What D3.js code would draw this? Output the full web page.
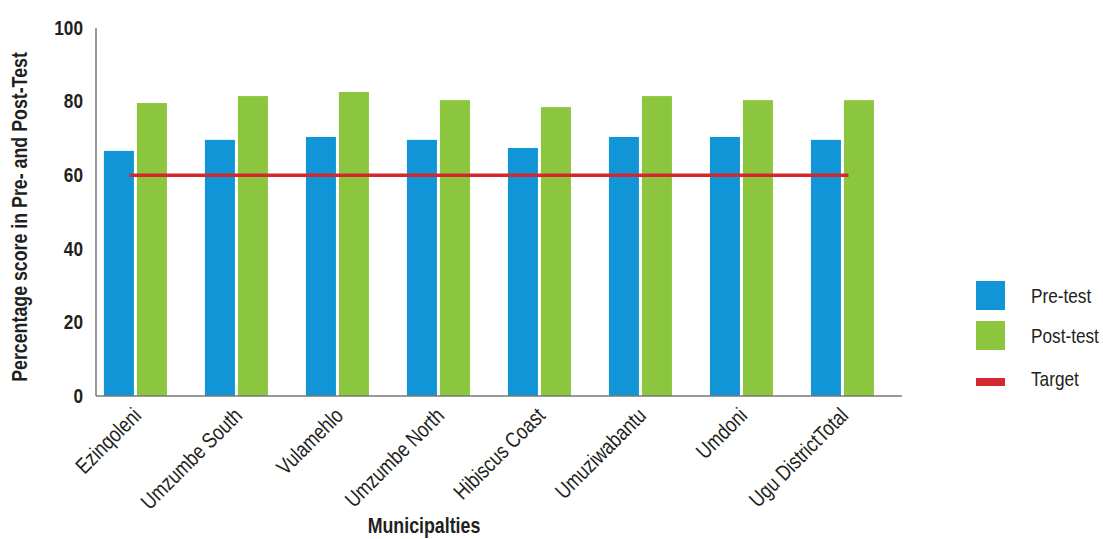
<!DOCTYPE html>
<html>
<head>
<meta charset="utf-8">
<script src="https://cdn.jsdelivr.net/npm/d3@7"></script>
<style>
  html, body { margin: 0; padding: 0; background: #ffffff; }
  svg { display: block; }
  text { font-family: "Liberation Sans", Arial, sans-serif; fill: #231f20; }
</style>
</head>
<body>
<svg id="chart" width="1103" height="539"></svg>
<script>
// Mean percentage scores per municipality, before and after training
const municipalities = ["Ezinqoleni", "Umzumbe South", "Vulamehlo", "Umzumbe North",
  "Hibiscus Coast", "Umuziwabantu", "Umdoni", "Ugu DistrictTotal"];
const preTest  = [66.6, 69.6, 70.4, 69.6, 67.4, 70.4, 70.4, 69.6];
const postTest = [79.6, 81.5, 82.6, 80.4, 78.5, 81.5, 80.4, 80.4];
const target = 60;
const yTicks = [0, 20, 40, 60, 80, 100];
const seriesNames = ["Pre-test", "Post-test"];
const legendLabels = ["Pre-test", "Post-test", "Target"];

const colors = { "Pre-test": "#1295d6", "Post-test": "#8cc63f", "Target": "#d3282e" };

// horizontal squeeze that gives the condensed lettering
const NARROW = 0.82;
const FONT = "21px";
const FONT_L = "21.7px";

const svg = d3.select("#chart");
const plot = { left: 96, right: 902, top: 28, bottom: 396 };

const y = d3.scaleLinear().domain([0, 100]).range([plot.bottom, plot.top]);

const x0 = d3.scaleBand()
  .domain(municipalities)
  .range([plot.left, plot.right])
  .paddingInner(0.376)
  .paddingOuter(0.178)
  .align(0.22);

const x1 = d3.scaleBand()
  .domain(seriesNames)
  .range([0, x0.bandwidth()])
  .paddingInner(0.09);

const rows = municipalities.map((m, i) => ({
  name: m,
  values: [
    { key: "Pre-test", value: preTest[i] },
    { key: "Post-test", value: postTest[i] }
  ]
}));

// Bars
const groups = svg.append("g").selectAll("g")
  .data(rows).join("g")
  .attr("transform", d => `translate(${x0(d.name)},0)`);

groups.selectAll("rect")
  .data(d => d.values).join("rect")
  .attr("x", d => x1(d.key))
  .attr("y", d => y(d.value))
  .attr("width", x1.bandwidth())
  .attr("height", d => y(0) - y(d.value))
  .attr("fill", d => colors[d.key]);

// Target line spanning the groups
const firstC = x0(municipalities[0]) + x0.bandwidth() / 2;
const lastC = x0(municipalities[municipalities.length - 1]) + x0.bandwidth() / 2;
svg.append("line")
  .attr("x1", firstC - 6).attr("x2", lastC + 6)
  .attr("y1", y(target)).attr("y2", y(target))
  .attr("stroke", colors["Target"])
  .attr("stroke-width", 3.5);

// Axis lines
svg.append("line")
  .attr("x1", plot.left).attr("x2", plot.left)
  .attr("y1", y(100)).attr("y2", plot.bottom)
  .attr("stroke", "#777").attr("stroke-width", 1.5);
svg.append("line")
  .attr("x1", plot.left).attr("x2", plot.right)
  .attr("y1", plot.bottom).attr("y2", plot.bottom)
  .attr("stroke", "#777").attr("stroke-width", 1.5);

// Y tick labels
const yAxis = d3.axisLeft(y).tickValues(yTicks).tickSize(0).tickPadding(0);
const gy = svg.append("g").attr("transform", `translate(${plot.left},0)`).call(yAxis);
gy.select(".domain").remove();
gy.selectAll("text")
  .style("font-family", '"Liberation Sans", Arial, sans-serif')
  .style("font-size", FONT).style("font-weight", "bold").attr("fill", "#231f20")
  .attr("x", 0).attr("dy", "0.35em")
  .attr("transform", `translate(-13,-1) scale(${NARROW},1)`);

// X category labels
const xAxis = d3.axisBottom(x0).tickSize(0).tickPadding(0);
const gx = svg.append("g").attr("transform", `translate(0,${plot.bottom})`).call(xAxis);
gx.select(".domain").remove();
gx.selectAll("text")
  .style("font-family", '"Liberation Sans", Arial, sans-serif')
  .style("font-size", FONT_L).attr("fill", "#231f20")
  .attr("text-anchor", "end")
  .attr("dy", "0")
  .attr("y", 0)
  .attr("transform", `translate(7,21) rotate(-45) scale(${NARROW},1)`);

// Axis titles
svg.append("text")
  .attr("transform", `translate(27,${(plot.top + plot.bottom) / 2 + 5}) rotate(-90) scale(${NARROW},1)`)
  .attr("text-anchor", "middle")
  .style("font-size", FONT_L).style("font-weight", "bold")
  .text("Percentage score in Pre- and Post-Test");

svg.append("text")
  .attr("transform", `translate(424,533) scale(${NARROW},1)`)
  .attr("text-anchor", "middle")
  .style("font-size", FONT_L).style("font-weight", "bold")
  .text("Municipalties");

// Legend
const legend = svg.append("g").attr("transform", "translate(976,281)");
legendLabels.forEach((lab, i) => {
  const g = legend.append("g").attr("transform", `translate(0,${i * 40})`);
  const isLine = lab === "Target";
  g.append("rect")
    .attr("x", 0).attr("y", isLine ? 17 : 0)
    .attr("width", 29).attr("height", isLine ? 8 : 29)
    .attr("fill", colors[lab]);
  g.append("text")
    .attr("transform", `translate(55,${isLine ? 18 : 14.5}) scale(${NARROW},1)`)
    .attr("dy", "0.35em")
    .style("font-size", FONT).text(lab);
});
</script>
</body>
</html>
